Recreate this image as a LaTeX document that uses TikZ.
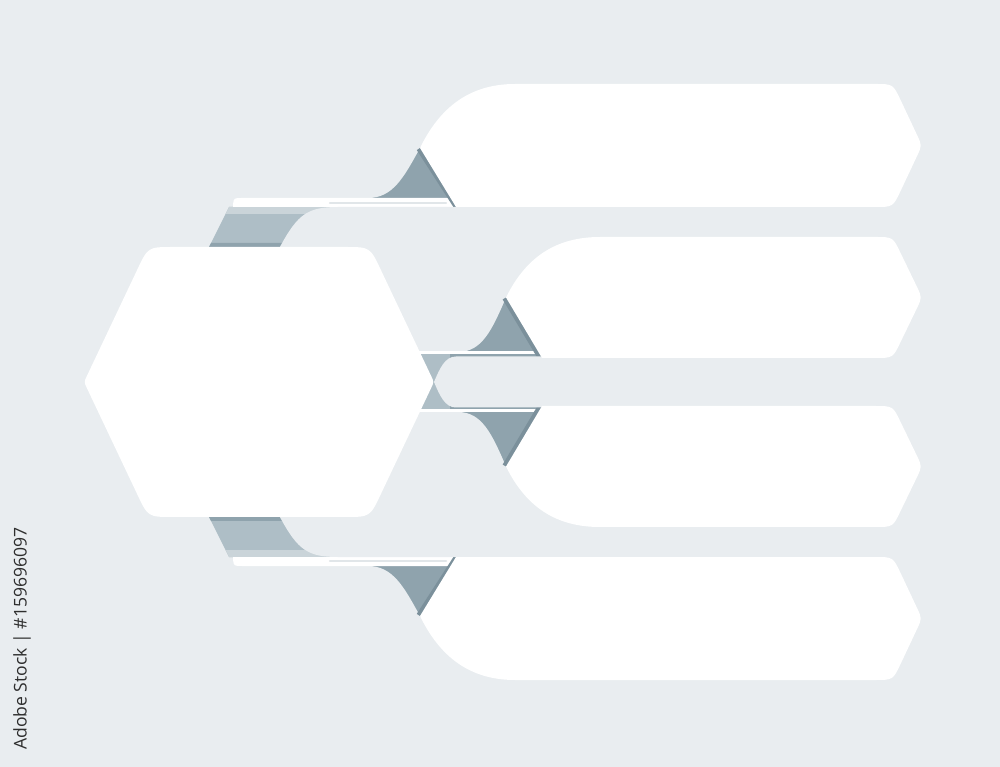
\documentclass[tikz,border=0pt]{standalone}
\usepackage{fontspec}
\newfontfamily\creditfont{Open Sans}

\definecolor{paper}{HTML}{E9EDF0}
\definecolor{foldmid}{HTML}{AEBEC6}
\definecolor{foldlight}{HTML}{CAD4D9}
\definecolor{folddark}{HTML}{8FA3AD}
\definecolor{foldedge}{HTML}{7B909B}
\definecolor{seam}{HTML}{E1E6E9}

\tikzset{
  cover/.style={fill=paper},
  card/.style={fill=white},
  crease/.style={foldedge, line width=2.2pt},
}

\begin{document}
\begin{tikzpicture}[x=0.01cm, y=-0.01cm]

% Fundo
\fill[paper] (0,-382) rectangle (1000,385);
\useasboundingbox (0,-382) rectangle (1000,385);

% Dobras (metade de cima, depois espelhada)
\foreach \s in {1,-1}{
\begin{scope}[yscale=\s]
  % faixa inclinada sob a tira branca
  \fill[foldmid] (229,-175) -- (360,-175) -- (360,-135) -- (209,-135) -- cycle;
  \fill[foldlight] (229,-175) -- (360,-175) -- (360,-168) -- (225.5,-168) -- cycle;
  \fill[folddark] (211,-139) -- (360,-139) -- (360,-135) -- (209,-135) -- cycle;

  % triangulo da faixa 1
  \fill[folddark] (420,-234) -- (458,-175) -- (350,-175) -- cycle;
  \fill[cover] (300,-184) -- (368,-184) .. controls (393,-184) and (404,-205) .. (420,-234)
    -- (420,-250) -- (300,-250) -- cycle;

  % tira branca
  \fill[card] (233,-175) -- (233,-178) .. controls (234,-184) .. (242,-184) -- (456,-184) -- (456,-175) -- cycle;
  \draw[seam, line width=0.7pt, line cap=round] (330,-179) -- (446,-179);
  \draw[crease] (420,-234) -- (458,-175);

  % triangulo da faixa 2
  \fill[folddark] (506,-84.5) -- (542,-24) -- (440,-24) -- cycle;
  \fill[cover] (281,-137) .. controls (298,-168) and (308,-175) .. (338,-175) -- (600,-175)
    -- (600,-145) -- (506,-84.5) .. controls (492,-52) and (482,-30) .. (458,-30)
    -- (250,-30) -- (265,-108) -- cycle;
  \fill[card] (410,-30.5) rectangle (540,-27.5);
  \draw[crease] (506,-84.5) -- (542,-24);

  % dobra junto ao vertice do hexagono
  \fill[foldmid] (400,-27.5) -- (450,-27.5) -- (450,0) -- (400,0) -- cycle;
\end{scope}
}

% Faixa do meio
\fill[cover] (1000,-25.5) -- (456,-25.5) .. controls (445,-25.5) and (440,-14) .. (434,0)
  .. controls (440,14) and (445,25.5) .. (456,25.5) -- (1000,25.5) -- cycle;

% Faixas brancas
\foreach \s in {1,-1}{
\begin{scope}[yscale=\s]
  \fill[card] (456,-175) -- (420,-234) .. controls (440,-275) and (470,-298) .. (515,-298)
    -- (875,-298) .. controls (893,-298) .. (900.7,-281.7) -- (916.9,-247.3)
    .. controls (922,-236.5) .. (916.9,-225.7) -- (900.7,-191.3)
    .. controls (893,-175) .. (875,-175) -- cycle;
  \fill[card] (542,-24) -- (506,-84.5) .. controls (526,-125) and (556,-145) .. (600,-145)
    -- (875,-145) .. controls (893,-145) .. (900.7,-128.7) -- (916.9,-95.3)
    .. controls (922,-84.5) .. (916.9,-73.7) -- (900.7,-40.3)
    .. controls (893,-24) .. (875,-24) -- cycle;
\end{scope}
}

% Hexagono
\fill[card] (87,6.3) .. controls (84,0) .. (87,-6.3) -- (137.3,-112.4)
  .. controls (148,-135) .. (173,-135) -- (345,-135) .. controls (370,-135) .. (380.7,-112.4)
  -- (431,-6.3) .. controls (434,0) .. (431,6.3) -- (380.7,112.4)
  .. controls (370,135) .. (345,135) -- (173,135) .. controls (148,135) .. (137.3,112.4) -- cycle;

% Credito
\node[rotate=90, text=black!82, font=\creditfont\fontsize{5}{6}\selectfont] (credit) at (22,256.5)
  {Adobe Stock | \#159696097};

\end{tikzpicture}
\end{document}
